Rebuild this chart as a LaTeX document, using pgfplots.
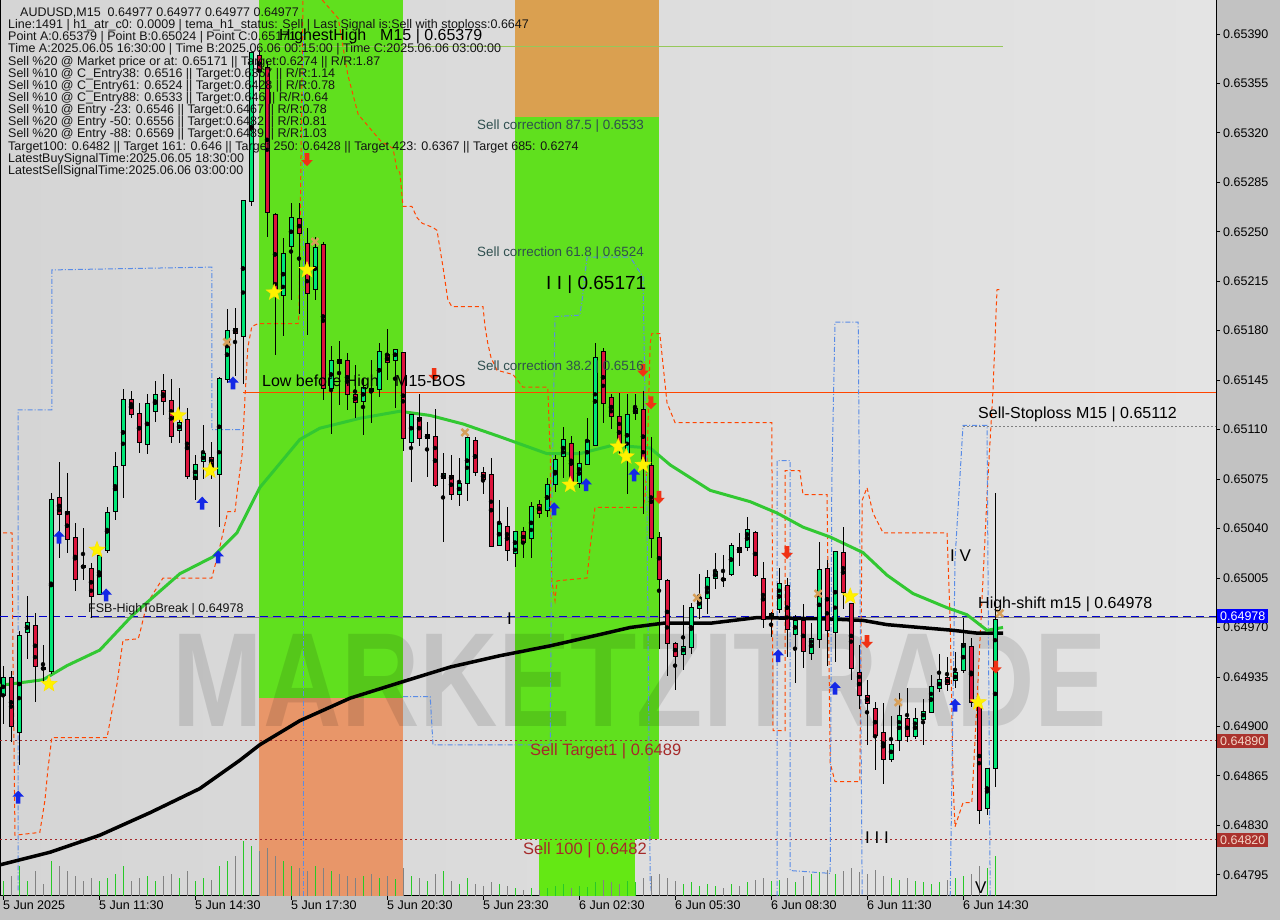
\documentclass[border=0pt]{standalone}
\usepackage{pgfplots}
\pgfplotsset{compat=1.18}
\usepackage{pgfplotstable}
\usepackage{fontspec}
\setmainfont{Liberation Sans}
\newcommand\fs[1]{\fontsize{#1}{#1}\selectfont}
\definecolor{bgL}{RGB}{213,213,213}
\definecolor{bgR}{RGB}{228,228,228}
\definecolor{bgpanel}{RGB}{194,194,194}
\definecolor{upc}{RGB}{0,230,118}
\definecolor{dnc}{RGB}{220,20,60}
\definecolor{bandgreen}{RGB}{96,224,30}
\definecolor{bandgreen2}{RGB}{100,232,20}
\definecolor{bandorange}{RGB}{232,150,105}
\definecolor{bandtan}{RGB}{218,160,80}
\definecolor{magreen}{RGB}{50,200,50}
\definecolor{orline}{RGB}{255,69,0}
\definecolor{bluedd}{RGB}{90,140,230}
\definecolor{dred}{RGB}{165,42,42}
\definecolor{tanx}{RGB}{215,160,90}
\definecolor{corr}{RGB}{47,79,79}
\definecolor{arrblue}{RGB}{20,40,230}
\definecolor{arrred}{RGB}{240,50,20}
\definecolor{hhline}{RGB}{150,200,90}
\definecolor{volgreen}{RGB}{40,200,40}
\definecolor{volgray}{RGB}{130,130,130}
\definecolor{boxred}{RGB}{170,50,45}
\definecolor{boxtext}{RGB}{245,215,200}

\pgfdeclareplotmark{ystar}{%
  \pgfpathmoveto{\pgfpointpolar{90}{\pgfplotmarksize}}%
  \pgfpathlineto{\pgfpointpolar{126}{0.42\pgfplotmarksize}}%
  \pgfpathlineto{\pgfpointpolar{162}{\pgfplotmarksize}}%
  \pgfpathlineto{\pgfpointpolar{198}{0.42\pgfplotmarksize}}%
  \pgfpathlineto{\pgfpointpolar{234}{\pgfplotmarksize}}%
  \pgfpathlineto{\pgfpointpolar{270}{0.42\pgfplotmarksize}}%
  \pgfpathlineto{\pgfpointpolar{306}{\pgfplotmarksize}}%
  \pgfpathlineto{\pgfpointpolar{342}{0.42\pgfplotmarksize}}%
  \pgfpathlineto{\pgfpointpolar{18}{\pgfplotmarksize}}%
  \pgfpathlineto{\pgfpointpolar{54}{0.42\pgfplotmarksize}}%
  \pgfpathclose\pgfusepathqfillstroke}
\pgfdeclareplotmark{uarr}{%
  \pgfpathmoveto{\pgfpoint{0pt}{\pgfplotmarksize}}%
  \pgfpathlineto{\pgfpoint{0.9\pgfplotmarksize}{0.05\pgfplotmarksize}}%
  \pgfpathlineto{\pgfpoint{0.35\pgfplotmarksize}{0.05\pgfplotmarksize}}%
  \pgfpathlineto{\pgfpoint{0.35\pgfplotmarksize}{-\pgfplotmarksize}}%
  \pgfpathlineto{\pgfpoint{-0.35\pgfplotmarksize}{-\pgfplotmarksize}}%
  \pgfpathlineto{\pgfpoint{-0.35\pgfplotmarksize}{0.05\pgfplotmarksize}}%
  \pgfpathlineto{\pgfpoint{-0.9\pgfplotmarksize}{0.05\pgfplotmarksize}}%
  \pgfpathclose\pgfusepathqfill}
\pgfdeclareplotmark{darr}{%
  \pgfpathmoveto{\pgfpoint{0pt}{-\pgfplotmarksize}}%
  \pgfpathlineto{\pgfpoint{0.9\pgfplotmarksize}{-0.05\pgfplotmarksize}}%
  \pgfpathlineto{\pgfpoint{0.35\pgfplotmarksize}{-0.05\pgfplotmarksize}}%
  \pgfpathlineto{\pgfpoint{0.35\pgfplotmarksize}{\pgfplotmarksize}}%
  \pgfpathlineto{\pgfpoint{-0.35\pgfplotmarksize}{\pgfplotmarksize}}%
  \pgfpathlineto{\pgfpoint{-0.35\pgfplotmarksize}{-0.05\pgfplotmarksize}}%
  \pgfpathlineto{\pgfpoint{-0.9\pgfplotmarksize}{-0.05\pgfplotmarksize}}%
  \pgfpathclose\pgfusepathqfill}

% bullish candles: index, open, high, low, close
\pgfplotstableread{
i o h l c
0 0.64923 0.64943 0.64902 0.64935
2 0.64898 0.64969 0.64874 0.64966
3 0.64968 0.64993 0.64948 0.64974
6 0.64940 0.65066 0.64938 0.65061
12 0.64995 0.65025 0.64993 0.65022
13 0.65025 0.65056 0.65023 0.65051
14 0.65054 0.65094 0.65046 0.65085
15 0.65085 0.65140 0.65063 0.65131
18 0.65100 0.65136 0.65094 0.65128
19 0.65125 0.65146 0.65117 0.65136
22 0.65110 0.65140 0.65101 0.65115
24 0.65076 0.65092 0.65060 0.65086
25 0.65087 0.65114 0.65076 0.65092
27 0.65080 0.65147 0.65041 0.65147
28 0.65146 0.65196 0.65144 0.65180
30 0.65177 0.65273 0.65143 0.65273
31 0.65272 0.65378 0.65269 0.65377
35 0.65207 0.65246 0.65177 0.65236
36 0.65240 0.65271 0.65202 0.65260
39 0.65210 0.65246 0.65202 0.65239
41 0.65140 0.65170 0.65108 0.65159
45 0.65131 0.65146 0.65106 0.65140
47 0.65139 0.65172 0.65134 0.65165
49 0.65160 0.65168 0.65126 0.65167
51 0.65102 0.65122 0.65074 0.65121
53 0.65105 0.65116 0.65077 0.65107
55 0.65076 0.65094 0.65031 0.65079
57 0.65066 0.65090 0.65056 0.65073
58 0.65073 0.65107 0.65060 0.65105
62 0.65029 0.65061 0.65028 0.65044
64 0.65023 0.65038 0.65014 0.65038
66 0.65033 0.65060 0.65020 0.65055
68 0.65054 0.65076 0.65048 0.65072
69 0.65073 0.65093 0.65067 0.65090
70 0.65092 0.65112 0.65076 0.65103
72 0.65073 0.65095 0.65069 0.65087
73 0.65087 0.65119 0.65086 0.65103
74 0.65101 0.65172 0.65099 0.65163
78 0.65093 0.65136 0.65065 0.65121
79 0.65122 0.65136 0.65117 0.65125
85 0.64952 0.64987 0.64941 0.64957
86 0.64957 0.64988 0.64952 0.64984
87 0.64984 0.65008 0.64976 0.64991
88 0.64991 0.65011 0.64980 0.65005
89 0.65006 0.65024 0.64999 0.65010
91 0.65009 0.65030 0.65007 0.65029
93 0.65027 0.65049 0.65025 0.65039
96 0.64977 0.64982 0.64964 0.64980
97 0.64983 0.65013 0.64981 0.65001
99 0.64966 0.64980 0.64932 0.64975
101 0.64952 0.64974 0.64948 0.64962
102 0.64962 0.65032 0.64957 0.65011
104 0.64967 0.65024 0.64947 0.65024
111 0.64878 0.64909 0.64876 0.64888
112 0.64891 0.64924 0.64883 0.64908
114 0.64894 0.64913 0.64891 0.64906
115 0.64906 0.64921 0.64888 0.64911
116 0.64911 0.64937 0.64910 0.64929
117 0.64929 0.64952 0.64925 0.64935
119 0.64933 0.64954 0.64928 0.64938
120 0.64941 0.64977 0.64938 0.64959
123 0.64843 0.64872 0.64839 0.64871
124 0.64872 0.65066 0.64858 0.64977
}\upc
% bearish candles
\pgfplotstableread{
i o h l c
1 0.64935 0.64940 0.64890 0.64901
4 0.64972 0.64981 0.64918 0.64944
5 0.64943 0.64959 0.64932 0.64942
7 0.65062 0.65088 0.65020 0.65051
8 0.65053 0.65080 0.65023 0.65034
9 0.65034 0.65046 0.64998 0.65005
10 0.65015 0.65042 0.65005 0.65014
11 0.65013 0.65016 0.64977 0.64994
16 0.65131 0.65138 0.65119 0.65121
17 0.65121 0.65129 0.65094 0.65101
20 0.65138 0.65150 0.65121 0.65131
21 0.65132 0.65146 0.65101 0.65107
23 0.65118 0.65126 0.65076 0.65078
26 0.65090 0.65102 0.65076 0.65080
29 0.65181 0.65197 0.65149 0.65178
32 0.65375 0.65379 0.65350 0.65364
33 0.65367 0.65370 0.65246 0.65265
34 0.65263 0.65264 0.65164 0.65207
37 0.65260 0.65271 0.65193 0.65250
38 0.65241 0.65254 0.65178 0.65207
40 0.65241 0.65244 0.65132 0.65140
42 0.65160 0.65174 0.65129 0.65158
43 0.65159 0.65165 0.65125 0.65136
44 0.65136 0.65156 0.65119 0.65131
46 0.65140 0.65159 0.65115 0.65138
48 0.65163 0.65181 0.65145 0.65158
50 0.65165 0.65166 0.65096 0.65105
52 0.65119 0.65136 0.65099 0.65105
54 0.65106 0.65125 0.65070 0.65072
56 0.65079 0.65093 0.65061 0.65066
59 0.65102 0.65105 0.65078 0.65080
60 0.65080 0.65084 0.65065 0.65076
61 0.65079 0.65090 0.65028 0.65029
63 0.65042 0.65056 0.65018 0.65026
65 0.65039 0.65041 0.65019 0.65032
67 0.65058 0.65062 0.65049 0.65052
71 0.65101 0.65106 0.65071 0.65074
75 0.65166 0.65168 0.65115 0.65130
76 0.65133 0.65136 0.65111 0.65120
77 0.65119 0.65136 0.65092 0.65097
80 0.65125 0.65138 0.65051 0.65087
81 0.65085 0.65105 0.65020 0.65034
82 0.65034 0.65038 0.64955 0.65005
83 0.65004 0.65005 0.64936 0.64960
84 0.64959 0.64960 0.64926 0.64950
90 0.65005 0.65023 0.65000 0.65004
92 0.65028 0.65038 0.65015 0.65025
94 0.65038 0.65039 0.65006 0.65008
95 0.65005 0.65018 0.64971 0.64977
98 0.65000 0.65005 0.64949 0.64970
100 0.64975 0.64988 0.64943 0.64954
103 0.65012 0.65018 0.64943 0.64969
105 0.65024 0.65042 0.64984 0.64996
106 0.64988 0.64988 0.64933 0.64943
107 0.64939 0.64959 0.64914 0.64923
108 0.64921 0.64933 0.64887 0.64916
109 0.64913 0.64918 0.64870 0.64895
110 0.64896 0.64917 0.64860 0.64878
113 0.64906 0.64928 0.64890 0.64894
118 0.64935 0.64949 0.64925 0.64931
121 0.64957 0.64964 0.64915 0.64918
122 0.64918 0.64918 0.64832 0.64842
}\dnc
% tick volume (bar heights)
\pgfplotstableread{
i v
0 15
2 30
3 15
6 35
12 15
13 18
14 22
15 30
18 20
19 15
22 18
24 15
25 18
27 30
28 35
30 55
31 50
35 35
36 30
39 30
41 25
45 20
47 18
49 17
51 20
53 15
55 25
57 12
58 18
62 12
64 8
66 8
68 8
69 10
70 12
72 10
73 9
74 14
78 15
79 14
85 12
86 14
87 10
88 12
89 10
91 12
93 14
96 15
97 16
99 14
101 22
102 24
104 22
111 18
112 16
114 15
115 14
116 12
117 14
119 18
120 20
123 28
124 40
}\upvol
\pgfplotstableread{
i v
1 20
4 25
5 12
7 30
8 25
9 20
10 15
11 18
16 15
17 18
20 20
21 22
23 25
26 16
29 40
32 45
33 48
34 40
37 28
38 25
40 28
42 22
43 20
44 18
46 22
48 20
50 28
52 18
54 22
56 15
59 12
60 10
61 14
63 10
65 6
67 6
71 8
75 16
76 14
77 12
80 18
81 20
82 22
83 18
84 15
90 8
92 10
94 16
95 18
98 18
100 20
103 26
105 25
106 28
107 24
108 22
109 26
110 20
113 18
118 16
121 22
122 30
}\dnvol

\begin{document}
\begin{tikzpicture}[x=1pt,y=1pt]
\fill[bgpanel] (0,-24) rectangle (1280,896);
\useasboundingbox (0,-24) rectangle (1280,896);
\begin{axis}[
  at={(0,0)}, anchor=south west,
  width=1216pt, height=896pt, scale only axis,
  xmin=-0.375, xmax=151.625, ymin=0.64780, ymax=0.65414,
  axis background/.style={left color=bgL, right color=bgR},
  axis line style={black, line width=1pt},
  tick align=outside, major tick length=4pt,
  tick style={black, line width=0.8pt},
  xtick pos=left, ytick pos=right, yticklabel pos=right,
  scaled y ticks=false,
  ytick={0.64795,0.64830,0.64865,0.64900,0.64935,0.64970,0.65005,0.65040,0.65075,0.65110,0.65145,0.65180,0.65215,0.65250,0.65285,0.65320,0.65355,0.65390},
  yticklabel style={/pgf/number format/.cd, fixed, fixed zerofill, precision=5, assume math mode=true, /tikz/.cd, font=\fs{12.5}, anchor=west, inner sep=0pt, xshift=3pt},
  xtick={0,12,24,36,48,60,72,84,96,108,120},
  xticklabels={5 Jun 2025,5 Jun 11:30,5 Jun 14:30,5 Jun 17:30,5 Jun 20:30,5 Jun 23:30,6 Jun 02:30,6 Jun 05:30,6 Jun 08:30,6 Jun 11:30,6 Jun 14:30},
  xticklabel style={font=\fs{12.5}, anchor=north west, inner sep=0pt, yshift=-1pt},
]
% zones
\addplot[fill=bandgreen, draw=none] coordinates {(32,0.64920) (50,0.64920) (50,0.65414) (32,0.65414)} --cycle;
\addplot[fill=bandorange, draw=none] coordinates {(32,0.64780) (50,0.64780) (50,0.64920) (32,0.64920)} --cycle;
\addplot[fill=bandgreen, draw=none] coordinates {(64,0.64820) (82,0.64820) (82,0.65331) (64,0.65331)} --cycle;
\addplot[fill=bandtan, draw=none] coordinates {(64,0.65331) (82,0.65331) (82,0.65414) (64,0.65414)} --cycle;
\addplot[fill=bandgreen2, draw=none] coordinates {(67,0.64780) (79,0.64780) (79,0.64820) (67,0.64820)} --cycle;
% watermark
\node[text opacity=0.11, font=\fs{134}\bfseries, xscale=0.81, inner sep=0pt] at (rel axis cs:0.5263,0.2411) {MARKETZITRADE};
% horizontal levels
\addplot[hhline, line width=1pt] coordinates {(33.4,0.65381) (125,0.65381)};
\addplot[orline, line width=1pt] coordinates {(30,0.65136) (151.625,0.65136)};
\addplot[gray, line width=1pt] coordinates {(10.9,0.64977) (151.625,0.64977)};
\addplot[blue!80!black, line width=1.2pt, dash pattern=on 8pt off 5pt] coordinates {(-0.375,0.64978) (151.625,0.64978)};
\addplot[dred, line width=1pt, dash pattern=on 2pt off 3pt] coordinates {(-0.375,0.64890) (151.625,0.64890)};
\addplot[dred, line width=1pt, dash pattern=on 2pt off 3pt] coordinates {(-0.375,0.64820) (151.625,0.64820)};
\addplot[gray, line width=1pt, dash pattern=on 2pt off 2pt] coordinates {(120,0.65112) (151.625,0.65112)};
% channel lines
\addplot[orline, line width=1pt, dash pattern=on 4pt off 3pt] coordinates {(0,0.65037) (1.125,0.65037) (1.25,0.64947) (1.5,0.64823) (4.6,0.64825) (5.25,0.64848) (5.6,0.64869) (6.1,0.64892) (13,0.64892) (13.1,0.64895) (14.25,0.64930) (15,0.64961) (16.9,0.64962) (17.1,0.64966) (18,0.64987) (20,0.65005) (26.1,0.65005) (27.1,0.65027) (28.1,0.65052) (29,0.65052) (29.25,0.65065) (29.9,0.65093) (30.25,0.65133) (30.6,0.65168) (31.1,0.65183) (31.9,0.65185) (36.9,0.65185) (37,0.65192) (37.5,0.65414)};
\addplot[orline, line width=1pt, dash pattern=on 4pt off 3pt] coordinates {(39.9,0.65414) (41.9,0.65401) (43.1,0.65361) (44.4,0.65333) (47.25,0.65314) (48.75,0.65309) (49.25,0.65294) (49.6,0.65292) (50,0.65268) (51.1,0.65268) (51.75,0.65260) (52.4,0.65256) (53.75,0.65253) (54.25,0.65251) (55,0.65225) (55.6,0.65202) (56.1,0.65197) (60,0.65197) (60.25,0.65183) (60.6,0.65171) (61,0.65161) (61.75,0.65152) (63.75,0.65149) (65,0.65140) (68.1,0.65140) (68.4,0.65093) (68.6,0.65003) (69,0.64989) (69.25,0.65003) (73,0.65005) (73.4,0.65027) (74,0.65055) (80,0.65055) (80.25,0.65062) (80.5,0.65086) (80.9,0.65171) (81.1,0.65178) (82.1,0.65178) (83,0.65129) (84,0.65115) (96.1,0.65115) (96.25,0.64897) (97.75,0.64897) (97.75,0.65081) (99.6,0.65081) (100,0.65064) (103,0.65064) (103.4,0.64874) (104,0.64861) (107.1,0.64861) (107.4,0.65060) (108,0.65069) (108.75,0.65051) (110,0.65037) (118,0.65037) (118.4,0.64975) (118.75,0.64862) (119,0.64829) (120,0.64846) (121.1,0.64846) (121.75,0.64918) (123.1,0.65074) (123.75,0.65138) (124.25,0.65209) (124.6,0.65209)};
\addplot[bluedd, line width=1pt, dash pattern=on 5pt off 2pt on 1pt off 2pt] coordinates {(1.9,0.64784) (1.9,0.65124) (6.1,0.65124) (6.1,0.65223) (26.1,0.65225) (26.1,0.65110) (30.25,0.65110)};
\addplot[bluedd, line width=1pt, dash pattern=on 5pt off 2pt on 1pt off 2pt] coordinates {(37.5,0.64780) (37.5,0.65390)};
\addplot[bluedd, line width=1pt, dash pattern=on 5pt off 2pt on 1pt off 2pt] coordinates {(50,0.64921) (53.4,0.64921) (53.75,0.64887) (68.4,0.64887) (68.6,0.65051) (69,0.65190) (72.1,0.65191) (72.4,0.65202) (73,0.65232) (78.4,0.65232) (80,0.65218) (80.25,0.65133) (80.5,0.65051) (80.9,0.64791) (81.1,0.64780)};
\addplot[bluedd, line width=1pt, dash pattern=on 5pt off 2pt on 1pt off 2pt] coordinates {(96.75,0.64780) (96.75,0.65088) (98.4,0.65088) (98.4,0.64798) (103.4,0.64796) (103.6,0.65074) (104,0.65186) (106.9,0.65186) (107.4,0.64780)};
\addplot[bluedd, line width=1pt, dash pattern=on 5pt off 2pt on 1pt off 2pt] coordinates {(118.4,0.64780) (119,0.65018) (120,0.65113) (123,0.65113) (123.4,0.64780)};
% moving averages
\addplot[black, line width=3.5pt] coordinates {(-0.4,0.64802) (5.9,0.64811) (12.1,0.64823) (18.4,0.64839) (24.6,0.64856) (29.6,0.64876) (32.1,0.64887) (37.1,0.64904) (43.4,0.64920) (49.6,0.64931) (55.9,0.64942) (62.1,0.64950) (68.4,0.64957) (74.6,0.64965) (78.4,0.64970) (82.5,0.64973) (88.4,0.64973) (94.25,0.64977) (103.4,0.64976) (107.5,0.64975) (110.5,0.64972) (114.6,0.64970) (118.75,0.64968) (121.75,0.64966) (125,0.64966)};
\addplot[magreen, line width=3pt] coordinates {(-0.4,0.64929) (5,0.64933) (8,0.64943) (12.1,0.64954) (16.25,0.64979) (22.1,0.65008) (26.25,0.65020) (29.25,0.65037) (32.1,0.65069) (37.1,0.65103) (39.6,0.65111) (44.6,0.65118) (49.6,0.65123) (53.4,0.65120) (57.5,0.65114) (62.1,0.65105) (68,0.65093) (72.1,0.65093) (76.25,0.65099) (80.9,0.65097) (83.4,0.65085) (88.4,0.65067) (93.4,0.65059) (96.75,0.65051) (100,0.65041) (103.4,0.65034) (107.5,0.65023) (110.5,0.65007) (113.75,0.64994) (118,0.64984) (120.5,0.64979) (123,0.64968) (125,0.64970)};
% candles: wicks
\addplot[only marks, mark=none, error bars/.cd, y dir=both, y explicit, error mark=none, error bar style={draw=black, line width=1pt}] table[x=i, y expr={(\thisrow{h}+\thisrow{l})/2}, y error expr={(\thisrow{h}-\thisrow{l})/2}] {\upc};
\addplot[only marks, mark=none, error bars/.cd, y dir=both, y explicit, error mark=none, error bar style={draw=black, line width=1pt}] table[x=i, y expr={(\thisrow{h}+\thisrow{l})/2}, y error expr={(\thisrow{h}-\thisrow{l})/2}] {\dnc};
% candles: bodies
\addplot[only marks, mark=none, error bars/.cd, y dir=both, y explicit, error mark=none, error bar style={draw=black, line width=5pt}] table[x=i, y expr={(\thisrow{o}+\thisrow{c})/2}, y error expr={abs(\thisrow{c}-\thisrow{o})/2+0.0000071}] {\upc};
\addplot[only marks, mark=none, error bars/.cd, y dir=both, y explicit, error mark=none, error bar style={draw=upc, line width=3pt}] table[x=i, y expr={(\thisrow{o}+\thisrow{c})/2}, y error expr={abs(\thisrow{c}-\thisrow{o})/2}] {\upc};
\addplot[only marks, mark=none, error bars/.cd, y dir=both, y explicit, error mark=none, error bar style={draw=black, line width=5pt}] table[x=i, y expr={(\thisrow{o}+\thisrow{c})/2}, y error expr={abs(\thisrow{c}-\thisrow{o})/2+0.0000071}] {\dnc};
\addplot[only marks, mark=none, error bars/.cd, y dir=both, y explicit, error mark=none, error bar style={draw=dnc, line width=3pt}] table[x=i, y expr={(\thisrow{o}+\thisrow{c})/2}, y error expr={abs(\thisrow{c}-\thisrow{o})/2}] {\dnc};
% signals
\addplot[only marks, mark=x, mark size=5pt, mark options={draw=tanx, line width=2.5pt}] coordinates {(28,0.65172) (39,0.65243) (57.75,0.65108) (86.75,0.64991) (101.9,0.64994) (111.9,0.64917) (124.6,0.64980)};
\addplot[only marks, mark=ystar, mark size=8.5pt, mark options={fill=yellow, draw=yellow!85!orange, line width=0.4pt}] coordinates {(5.75,0.64930) (11.75,0.65025) (21.9,0.65120) (25.9,0.65081) (33.9,0.65207) (38,0.65223) (70.9,0.65071) (76.9,0.65098) (77.9,0.65091) (80,0.65085) (105.9,0.64992) (121.9,0.64917)};
\addplot[only marks, mark=uarr, mark size=6.5pt, mark options={fill=arrblue}] coordinates {(1.9,0.64850) (7,0.65034) (12.9,0.64993) (24.9,0.65058) (26.9,0.65020) (28.75,0.65143) (68.9,0.65054) (72.9,0.65071) (78.9,0.65078) (96.9,0.64950) (104,0.64927) (119,0.64915)};
\addplot[only marks, mark=darr, mark size=6.5pt, mark options={fill=arrred}] coordinates {(38,0.65301) (53.9,0.65149) (80,0.65152) (81,0.65129) (82,0.65062) (98,0.65023) (108,0.64960) (124.1,0.64942)};
\end{axis}
% volume
\begin{axis}[at={(0,0)}, anchor=south west, width=1216pt, height=896pt, scale only axis,
  xmin=-0.375, xmax=151.625, ymin=0, ymax=896, hide axis]
\addplot[ycomb, draw=volgreen, line width=1pt, mark=none] table[x=i, y=v] {\upvol};
\addplot[ycomb, draw=volgray, line width=1pt, mark=none] table[x=i, y=v] {\dnvol};
\end{axis}
% info block
\begin{scope}[every node/.style={anchor=base west, inner sep=0pt, font=\fs{12.5}, text=black!92}]
\node at (20,879.5) {AUDUSD,M15\ \ 0.64977 0.64977 0.64977 0.64977};
\node at (8,867.3) {Line:1491 | h1\_atr\_c0: 0.0009 | tema\_h1\_status: Sell | Last Signal is:Sell with stoploss:0.6647};
\node at (8,855.2) {Point A:0.65379 | Point B:0.65024 | Point C:0.65171};
\node at (8,843.0) {Time A:2025.06.05 16:30:00 | Time B:2025.06.06 00:15:00 | Time C:2025.06.06 03:00:00};
\node at (8,830.9) {Sell \%20 @ Market price or at: 0.65171 || Target:0.6274 || R/R:1.87};
\node at (8,818.7) {Sell \%10 @ C\_Entry38: 0.6516 || Target:0.6367 || R/R:1.14};
\node at (8,806.6) {Sell \%10 @ C\_Entry61: 0.6524 || Target:0.6428 || R/R:0.78};
\node at (8,794.4) {Sell \%10 @ C\_Entry88: 0.6533 || Target:0.646 || R/R:0.64};
\node at (8,782.3) {Sell \%10 @ Entry -23: 0.6546 || Target:0.6467 || R/R:0.78};
\node at (8,770.1) {Sell \%20 @ Entry -50: 0.6556 || Target:0.6482 || R/R:0.81};
\node at (8,758.0) {Sell \%20 @ Entry -88: 0.6569 || Target:0.6489 || R/R:1.03};
\node at (8,745.8) {Target100: 0.6482 || Target 161: 0.646 || Target 250: 0.6428 || Target 423: 0.6367 || Target 685: 0.6274};
\node at (8,733.7) {LatestBuySignalTime:2025.06.05 18:30:00};
\node at (8,721.5) {LatestSellSignalTime:2025.06.06 03:00:00};
\node at (88,283.5) {FSB-HighToBreak | 0.64978};
\end{scope}
\begin{scope}[every node/.style={anchor=base west, inner sep=0pt}]
\node[font=\fs{16}] at (279,855.3) {HighestHigh};
\node[font=\fs{16}] at (380,855.3) {M15 | 0.65379};
\node[font=\fs{16}] at (262,509.3) {Low before High};
\node[font=\fs{16}] at (395,509.3) {M15-BOS};
\node[font=\fs{19}] at (546,606.2) {I I | 0.65171};
\node[font=\fs{13.4}, text=corr] at (477,766.2) {Sell correction 87.5 | 0.6533};
\node[font=\fs{13.4}, text=corr] at (477,639.2) {Sell correction 61.8 | 0.6524};
\node[font=\fs{13.4}, text=corr] at (477,525.2) {Sell correction 38.2 | 0.6516};
\node[font=\fs{16.5}, text=dred] at (530,140.9) {Sell Target1 | 0.6489};
\node[font=\fs{16.5}, text=dred] at (523,41.9) {Sell 100 | 0.6482};
\node[font=\fs{16}] at (978,477.3) {Sell-Stoploss M15 | 0.65112};
\node[font=\fs{16}] at (978,287.3) {High-shift m15 | 0.64978};
\node[font=\fs{17}] at (950,334) {I V};
\node[font=\fs{17}] at (865,52) {I I I};
\node[font=\fs{17}] at (975,2) {V};
\node[font=\fs{17}] at (507,271) {I};
\end{scope}
% price boxes on the scale
\node[fill=blue, text=white, anchor=west, inner xsep=3pt, inner ysep=0pt, minimum height=14pt, font=\fs{12.5}] at (1217,280) {0.64978};
\node[fill=boxred, text=boxtext, anchor=west, inner xsep=3pt, inner ysep=0pt, minimum height=14pt, font=\fs{12.5}] at (1217,155) {0.64890};
\node[fill=boxred, text=boxtext, anchor=west, inner xsep=3pt, inner ysep=0pt, minimum height=14pt, font=\fs{12.5}] at (1217,56) {0.64820};
\end{tikzpicture}
\end{document}
